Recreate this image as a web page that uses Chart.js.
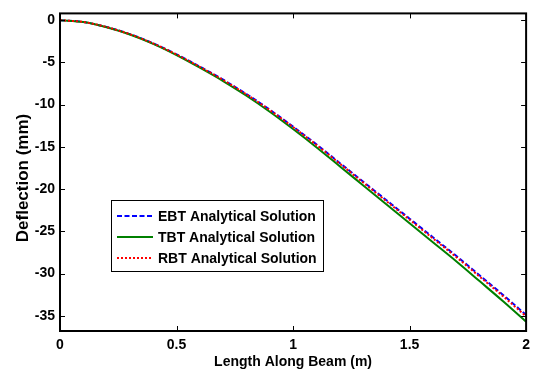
<!DOCTYPE html>
<html>
<head>
<meta charset="utf-8">
<script src="https://cdn.jsdelivr.net/npm/chart.js@4.4.0/dist/chart.umd.min.js"></script>
<style>
html, body { margin: 0; padding: 0; background: #fff; }
#wrap { width: 536px; height: 376px; }
</style>
</head>
<body>
<div id="wrap"><canvas id="beamChart" width="536" height="376"></canvas></div>
<script>
const xPositions = [0, 0.1, 0.2, 0.3, 0.4, 0.5, 0.6, 0.7, 0.8, 0.9, 1.0, 1.1, 1.2, 1.3, 1.4, 1.5, 1.6, 1.7, 1.8, 1.9, 2.0];
const ebtDeflection = [0, -0.22, -0.82, -1.66, -2.75, -4.05, -5.50, -7.05, -8.75, -10.60, -12.60, -14.70, -16.90, -19.10, -21.30, -23.50, -25.70, -27.90, -30.20, -32.50, -34.90];
const tbtDeflection = [0, -0.23, -0.84, -1.70, -2.81, -4.14, -5.63, -7.21, -8.95, -10.84, -12.89, -15.04, -17.29, -19.54, -21.79, -24.04, -26.29, -28.54, -30.89, -33.25, -35.70];
const rbtDeflection = [0, -0.22, -0.82, -1.67, -2.76, -4.07, -5.53, -7.09, -8.79, -10.65, -12.66, -14.77, -16.98, -19.20, -21.41, -23.62, -25.83, -28.04, -30.35, -32.66, -35.07];
const seriesLabels = ['EBT Analytical Solution', 'TBT Analytical Solution', 'RBT Analytical Solution'];
const xTickValues = [0, 0.5, 1, 1.5, 2];
const yTickValues = [0, -5, -10, -15, -20, -25, -30, -35];
const yAxisTitle = 'Deflection (mm)';

const fontFamily = '"Liberation Sans", Arial, sans-serif';

function toPoints(ys) {
    return xPositions.map((x, i) => ({ x: x, y: ys[i] }));
}

// MATLAB-style frame with inward tick marks, plus the y title
const framePlugin = {
    id: 'frame',
    afterDatasetsDraw(chart) {
        const { ctx, chartArea: a, scales } = chart;
        ctx.save();
        ctx.strokeStyle = '#000';
        ctx.lineWidth = 1;
        ctx.beginPath();
        xTickValues.forEach(v => {
            const px = Math.round(scales.x.getPixelForValue(v)) + 0.5;
            ctx.moveTo(px, a.bottom); ctx.lineTo(px, a.bottom - 5);
            ctx.moveTo(px, a.top); ctx.lineTo(px, a.top + 5);
        });
        yTickValues.forEach(v => {
            const py = Math.round(scales.y.getPixelForValue(v)) + 0.5;
            ctx.moveTo(a.left, py); ctx.lineTo(a.left + 5, py);
            ctx.moveTo(a.right, py); ctx.lineTo(a.right - 5, py);
        });
        ctx.stroke();
        ctx.lineWidth = 2;
        ctx.strokeRect(a.left, a.top, a.right - a.left, a.bottom - a.top);

        ctx.translate(23, 178);
        ctx.rotate(-Math.PI / 2);
        ctx.fillStyle = '#000';
        ctx.font = 'bold 17px ' + fontFamily;
        ctx.textAlign = 'center';
        ctx.textBaseline = 'middle';
        ctx.fillText(yAxisTitle, 0, 0);
        ctx.restore();
    }
};

// legend box drawn inside the plot like the original
const boxLegendPlugin = {
    id: 'boxLegend',
    afterDatasetsDraw(chart) {
        const { ctx } = chart;
        const left = 111, top = 200, width = 212, height = 71;
        ctx.save();
        ctx.fillStyle = '#fff';
        ctx.fillRect(left, top, width, height);
        ctx.strokeStyle = '#000';
        ctx.lineWidth = 1;
        ctx.strokeRect(left + 0.5, top + 0.5, width, height);
        ctx.font = 'bold 14px ' + fontFamily;
        ctx.textBaseline = 'middle';
        chart.data.datasets.forEach((ds, i) => {
            const y = top + 16 + i * 21;
            ctx.strokeStyle = ds.borderColor;
            ctx.lineWidth = ds.borderWidth;
            ctx.setLineDash(ds.borderDash || []);
            ctx.beginPath();
            ctx.moveTo(117, y);
            ctx.lineTo(153, y);
            ctx.stroke();
            ctx.setLineDash([]);
            ctx.fillStyle = '#000';
            ctx.fillText(ds.label, 158, y + 1);
        });
        ctx.restore();
    }
};

const chart = new Chart(document.getElementById('beamChart'), {
    type: 'line',
    data: {
        datasets: [
            {
                label: seriesLabels[0],
                data: toPoints(ebtDeflection),
                borderColor: '#0000ff',
                borderWidth: 2,
                borderDash: [5, 2.5],
                order: 3
            },
            {
                label: seriesLabels[1],
                data: toPoints(tbtDeflection),
                borderColor: '#008000',
                borderWidth: 2,
                order: 2
            },
            {
                label: seriesLabels[2],
                data: toPoints(rbtDeflection),
                borderColor: '#ff0000',
                borderWidth: 2,
                borderDash: [2, 2],
                order: 1
            }
        ]
    },
    options: {
        responsive: false,
        animation: false,
        devicePixelRatio: 1,
        layout: { padding: { left: 0, right: 8, top: 8, bottom: 0 } },
        elements: {
            point: { radius: 0 },
            line: { cubicInterpolationMode: 'monotone', fill: false }
        },
        plugins: {
            legend: { display: false },
            tooltip: { enabled: false }
        },
        scales: {
            x: {
                type: 'linear',
                min: 0,
                max: 2,
                afterBuildTicks: axis => { axis.ticks = xTickValues.map(v => ({ value: v })); },
                afterFit: axis => { axis.height = 45; },
                grid: { display: false, drawTicks: false },
                border: { display: false },
                ticks: {
                    color: '#000',
                    padding: 6,
                    maxRotation: 0,
                    font: { family: fontFamily, size: 14, weight: 'bold' },
                    callback: v => String(v)
                },
                title: {
                    display: true,
                    text: 'Length Along Beam (m)',
                    color: '#000',
                    padding: { top: 0, bottom: 5 },
                    font: { family: fontFamily, size: 14, weight: 'bold' }
                }
            },
            y: {
                type: 'linear',
                min: -36.8,
                max: 0.8,
                afterBuildTicks: axis => { axis.ticks = yTickValues.map(v => ({ value: v })); },
                afterFit: axis => { axis.width = 60; },
                grid: { display: false, drawTicks: false },
                border: { display: false },
                ticks: {
                    color: '#000',
                    padding: 5,
                    font: { family: fontFamily, size: 14, weight: 'bold' },
                    callback: v => String(v)
                },
                title: { display: false }
            }
        }
    },
    plugins: [framePlugin, boxLegendPlugin]
});
</script>
</body>
</html>
